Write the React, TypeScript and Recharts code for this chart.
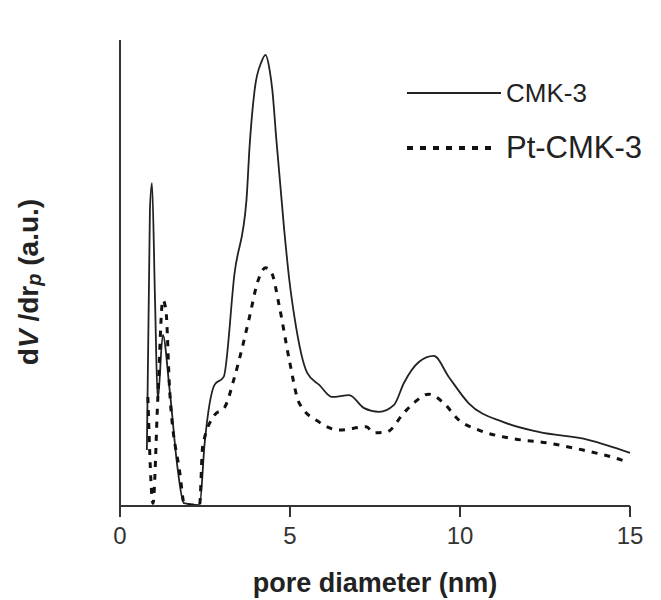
import { Legend, Line, LineChart, XAxis, YAxis } from 'recharts';

// pore diameter (nm) and dV/drp (a.u.)
const cmk3Diameter = [
  0.79, 0.88, 0.94, 1.03, 1.11, 1.26, 1.46, 1.7, 1.88, 2.34, 2.49, 2.78, 3.05, 3.37, 3.72, 3.81,
  3.96, 4.16, 4.28, 4.4, 4.48, 4.6, 4.83, 4.98, 5.13, 5.51, 5.86, 6.24, 6.74, 7.18, 7.62, 8.06,
  8.35, 8.79, 9.23, 9.67, 10.25, 11.28, 12.31, 13.77, 15.0,
];
const cmk3Signal = [
  12.0, 63.5, 69.3, 44.2, 22.7, 36.7, 24.9, 7.7, 0.6, 0.2, 13.5, 26.0, 27.7, 50.0, 65.7, 77.0,
  89.3, 95.3, 96.8, 93.6, 89.3, 78.5, 59.2, 48.5, 40.6, 28.5, 26.0, 23.4, 23.8, 21.0, 20.2, 21.7,
  26.4, 30.9, 32.2, 27.7, 22.1, 18.0, 15.9, 14.2, 11.4,
];

const ptDiameter = [
  0.82, 0.97, 1.11, 1.26, 1.35, 1.46, 1.76, 1.9, 2.34, 2.43, 2.78, 3.08, 3.37, 3.81, 4.04, 4.28,
  4.45, 4.69, 4.98, 5.27, 5.86, 6.45, 7.24, 7.47, 7.85, 8.35, 8.64, 9.08, 9.52, 9.96, 10.55, 11.43,
  12.6, 13.62, 14.56, 14.94,
];
const ptSignal = [
  23.4, 0.6, 22.7, 44.2, 42.1, 24.9, 7.1, 0.2, 0.2, 12.7, 19.5, 21.2, 27.7, 40.6, 47.9, 51.1,
  50.2, 42.7, 31.3, 22.1, 18.0, 16.3, 17.0, 15.7, 15.9, 20.0, 22.1, 24.0, 22.1, 18.5, 16.3, 14.6,
  13.5, 12.0, 10.3, 9.4,
];

const xTicks = [0, 5, 10, 15];

const cmk3Data = cmk3Diameter.map((d, i) => ({ d, v: cmk3Signal[i] }));
const ptData = ptDiameter.map((d, i) => ({ d, v: ptSignal[i] }));

const FONT = '"Liberation Sans", Arial, sans-serif';
const AXIS = '#333';

const renderYLabel = () => (
  <text
    x={28}
    y={282}
    transform="rotate(-90 28 282)"
    textAnchor="middle"
    dominantBaseline="central"
    fontFamily={FONT}
    fontWeight="bold"
    fontSize={28}
    fill="#222"
  >
    d<tspan fontStyle="italic">V</tspan> /dr
    <tspan fontStyle="italic" fontSize={20} dy={6}>p</tspan>
    <tspan dy={-6}> (a.u.)</tspan>
  </text>
);

const renderXLabel = () => (
  <text
    x={375}
    y={592}
    textAnchor="middle"
    fontFamily={FONT}
    fontWeight="bold"
    fontSize={27}
    fill="#222"
  >
    pore diameter (nm)
  </text>
);

const renderLegend = () => (
  <svg width={260} height={100} style={{ fontFamily: FONT, display: 'block' }}>
    <line x1={7} x2={101} y1={23} y2={23} stroke="#222" strokeWidth={2} />
    <text x={106} y={32} fontSize={26} fill="#222">CMK-3</text>
    <line x1={7} x2={97} y1={78} y2={78} stroke="#111" strokeWidth={4} strokeDasharray="6 7" />
    <text x={106} y={88} fontSize={31} fill="#222">Pt-CMK-3</text>
  </svg>
);

export default function App() {
  return (
    <div style={{ position: 'absolute', left: 0, top: 0, width: 661, height: 600, background: '#fff' }}>
      <LineChart width={661} height={600} margin={{ top: 40, right: 31, bottom: 34, left: 0 }}>
        <XAxis
          dataKey="d"
          type="number"
          domain={[0, 15]}
          ticks={xTicks}
          allowDuplicatedCategory={false}
          height={60}
          tickSize={11}
          tickMargin={10}
          stroke={AXIS}
          strokeWidth={2}
          tick={{ fontFamily: FONT, fontSize: 24, fill: '#333' }}
          label={renderXLabel}
        />
        <YAxis
          type="number"
          domain={[0, 100]}
          width={120}
          tick={false}
          tickLine={false}
          stroke={AXIS}
          strokeWidth={2}
          label={renderYLabel}
        />
        <Legend
          verticalAlign="middle"
          layout="horizontal"
          content={renderLegend}
          wrapperStyle={{ position: 'absolute', left: 400, top: 70, width: 260, height: 100 }}
        />
        <Line
          data={cmk3Data}
          dataKey="v"
          name="CMK-3"
          type="monotone"
          stroke="#222"
          strokeWidth={1.8}
          dot={false}
          isAnimationActive={false}
        />
        <Line
          data={ptData}
          dataKey="v"
          name="Pt-CMK-3"
          type="monotone"
          stroke="#111"
          strokeWidth={3}
          strokeDasharray="6 7"
          dot={false}
          isAnimationActive={false}
        />
      </LineChart>
    </div>
  );
}
